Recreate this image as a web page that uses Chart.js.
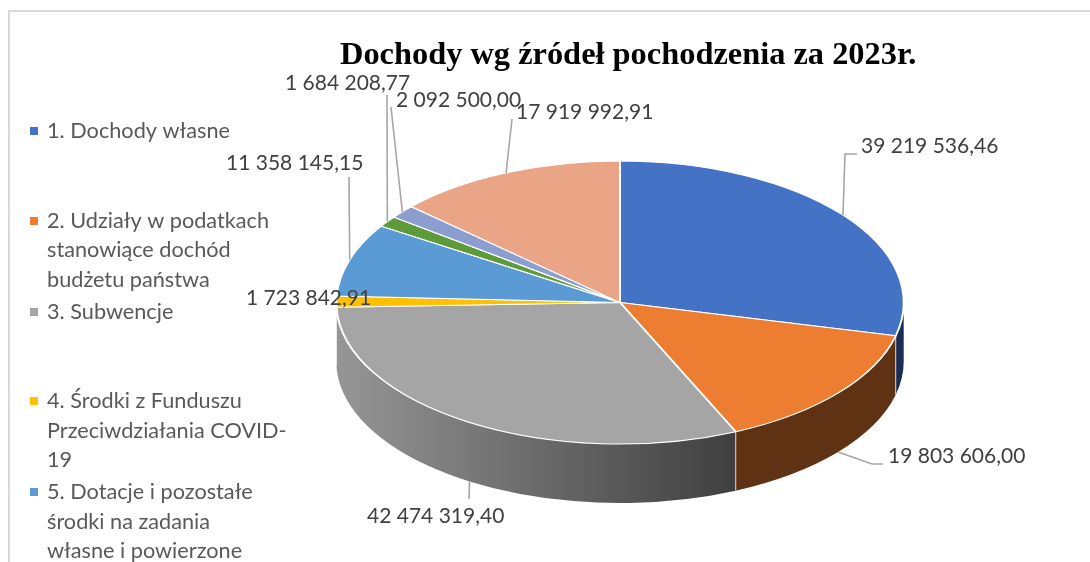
<!DOCTYPE html>
<html>
<head>
<meta charset="utf-8">
<style>html,body{margin:0;padding:0;background:#fff;overflow:hidden}canvas{display:block}</style>
<script src="https://cdn.jsdelivr.net/npm/chart.js@4/dist/chart.umd.min.js"></script>
</head>
<body>
<canvas id="c" width="1090" height="562"></canvas>
<script>
const chartTitle = 'Dochody wg źródeł pochodzenia za 2023r.';
const categories = ['1. Dochody własne',
  '2. Udziały w podatkach stanowiące dochód budżetu państwa',
  '3. Subwencje',
  '4. Środki z Funduszu Przeciwdziałania COVID-19',
  '5. Dotacje i pozostałe środki na zadania własne i powierzone',
  '6.', '7.', '8.'];
const legendLines = [
  ['1. Dochody własne'],
  ['2. Udziały w podatkach', 'stanowiące dochód', 'budżetu państwa'],
  ['3. Subwencje'],
  ['4. Środki z Funduszu', 'Przeciwdziałania COVID-', '19'],
  ['5. Dotacje i pozostałe', 'środki na zadania', 'własne i powierzone']
];
const values = [39219536.46, 19803606.00, 42474319.40, 1723842.91, 11358145.15, 1684208.77, 2092500.00, 17919992.91];
const colors = ['#4472c4', '#ed7d31', '#a5a5a5', '#ffc000', '#5b9bd5', '#5f9a3a', '#8c9dd0', '#eaa586'];

/* layout of the flattened pie (not data) */
const CX = 620, CY = 302.5, R = 142, STRETCH = 2.005, DEPTH = 59;
const wallStyle = [['#1a2e55', '#1a2e55'], ['#5f3214', '#5f3214'], ['#969696', '#3f3f3f'], ['#997300', '#997300'],
                   ['#2e6da4', '#2e6da4'], ['#3c5d23', '#3c5d23'], ['#5a6ea8', '#5a6ea8'], ['#b5694a', '#b5694a']];
const legendY = [[131], [221, 250, 280], [312], [401, 431, 460], [492, 522, 551]];
/* label anchor x (left), y (middle) and elbow points for the leaders */
const labelLayout = [
  {x: 861, y: 146, elbow: [[845, 154], [857, 154]]},
  {x: 888, y: 456, elbow: [[872, 464], [883, 464]]},
  {x: 367, y: 516, elbow: [[469, 499]]},
  {x: 246, y: 298, elbow: null},
  {x: 226, y: 163, elbow: [[349, 177]]},
  {x: 285, y: 83,  elbow: [[387, 95]]},
  {x: 396, y: 100, elbow: [[391, 107]]},
  {x: 516, y: 112, elbow: [[512, 119]]}
];
const fmt = v => {
  const [i, d] = v.toFixed(2).split('.');
  return i.replace(/\B(?=(\d{3})+$)/g, ' ') + ',' + d;
};

const pie3d = {
  id: 'pie3d',
  beforeDatasetsDraw(chart) {
    const ctx = chart.ctx;
    const arcs = chart.getDatasetMeta(0).data;
    ctx.save();
    arcs.forEach((el, i) => {
      const p = el.getProps(['x', 'y', 'startAngle', 'endAngle', 'outerRadius']);
      const a0 = Math.max(p.startAngle, 0), a1 = Math.min(p.endAngle, Math.PI);
      if (a1 <= a0) return;
      const rx = p.outerRadius * STRETCH, ry = p.outerRadius;
      const xA = p.x + rx * Math.cos(a1), xB = p.x + rx * Math.cos(a0);
      const g = ctx.createLinearGradient(xA, 0, xB, 0);
      g.addColorStop(0, wallStyle[i][0]);
      g.addColorStop(1, wallStyle[i][1]);
      ctx.beginPath();
      ctx.ellipse(p.x, p.y, rx, ry, 0, a0, a1, false);
      ctx.lineTo(p.x + rx * Math.cos(a1), p.y + ry * Math.sin(a1) + DEPTH);
      ctx.ellipse(p.x, p.y + DEPTH, rx, ry, 0, a1, a0, true);
      ctx.closePath();
      ctx.fillStyle = g;
      ctx.fill();
      ctx.strokeStyle = 'rgba(255,255,255,0.75)';
      ctx.lineWidth = 1;
      ctx.beginPath();
      if (a0 > 0) {
        ctx.moveTo(p.x + rx * Math.cos(a0), p.y + ry * Math.sin(a0));
        ctx.lineTo(p.x + rx * Math.cos(a0), p.y + ry * Math.sin(a0) + DEPTH);
        ctx.stroke();
      }
    });
    ctx.restore();
    ctx.save();
    ctx.translate(CX, CY);
    ctx.scale(STRETCH, 1);
    ctx.translate(-CX, -CY);
  },
  afterDatasetsDraw(chart) {
    chart.ctx.restore();
  },
  afterDraw(chart) {
    const ctx = chart.ctx;
    const arcs = chart.getDatasetMeta(0).data;
    ctx.save();
    /* frame */
    ctx.strokeStyle = '#d9d9d9';
    ctx.lineWidth = 2;
    ctx.beginPath();
    ctx.moveTo(9, 562); ctx.lineTo(9, 11); ctx.lineTo(1090, 11);
    ctx.stroke();
    /* leaders */
    ctx.strokeStyle = '#a6a6a6';
    ctx.lineWidth = 1.6;
    arcs.forEach((el, i) => {
      const elbow = labelLayout[i].elbow;
      if (!elbow) return;
      const p = el.getProps(['x', 'y', 'startAngle', 'endAngle', 'outerRadius']);
      const mid = (p.startAngle + p.endAngle) / 2;
      const sy = Math.sin(mid);
      const x = p.x + p.outerRadius * STRETCH * Math.cos(mid);
      const y = p.y + p.outerRadius * sy + (sy > 0 ? DEPTH : 0);
      ctx.beginPath();
      ctx.moveTo(x, y);
      elbow.forEach(q => ctx.lineTo(q[0], q[1]));
      ctx.stroke();
    });
    /* data labels */
    ctx.font = '21px Lato, Carlito, sans-serif';
    ctx.fillStyle = '#404040';
    ctx.textAlign = 'left';
    ctx.textBaseline = 'middle';
    values.forEach((v, i) => ctx.fillText(fmt(v), labelLayout[i].x, labelLayout[i].y));
    /* legend */
    ctx.font = '21.7px Lato, Carlito, sans-serif';
    legendLines.forEach((lines, i) => {
      ctx.fillStyle = colors[i];
      ctx.fillRect(30, legendY[i][0] - 4, 8, 8);
      ctx.fillStyle = '#595959';
      lines.forEach((t, j) => ctx.fillText(t, 47, legendY[i][j]));
    });
    /* title */
    ctx.font = 'bold 32.4px "Liberation Serif", serif';
    ctx.fillStyle = '#000';
    ctx.textAlign = 'left';
    ctx.fillText(chartTitle, 340, 56);
    ctx.restore();
  }
};

new Chart(document.getElementById('c'), {
  type: 'pie',
  data: {
    labels: categories,
    datasets: [{
      data: values,
      backgroundColor: colors,
      borderColor: '#ffffff',
      borderWidth: 1,
      clip: false
    }]
  },
  options: {
    responsive: false,
    animation: false,
    layout: {padding: {left: CX - R, right: 1090 - CX - R, top: CY - R, bottom: 562 - CY - R}},
    plugins: {legend: {display: false}, title: {display: false}, tooltip: {enabled: false}}
  },
  plugins: [pie3d]
});
</script>
</body>
</html>
